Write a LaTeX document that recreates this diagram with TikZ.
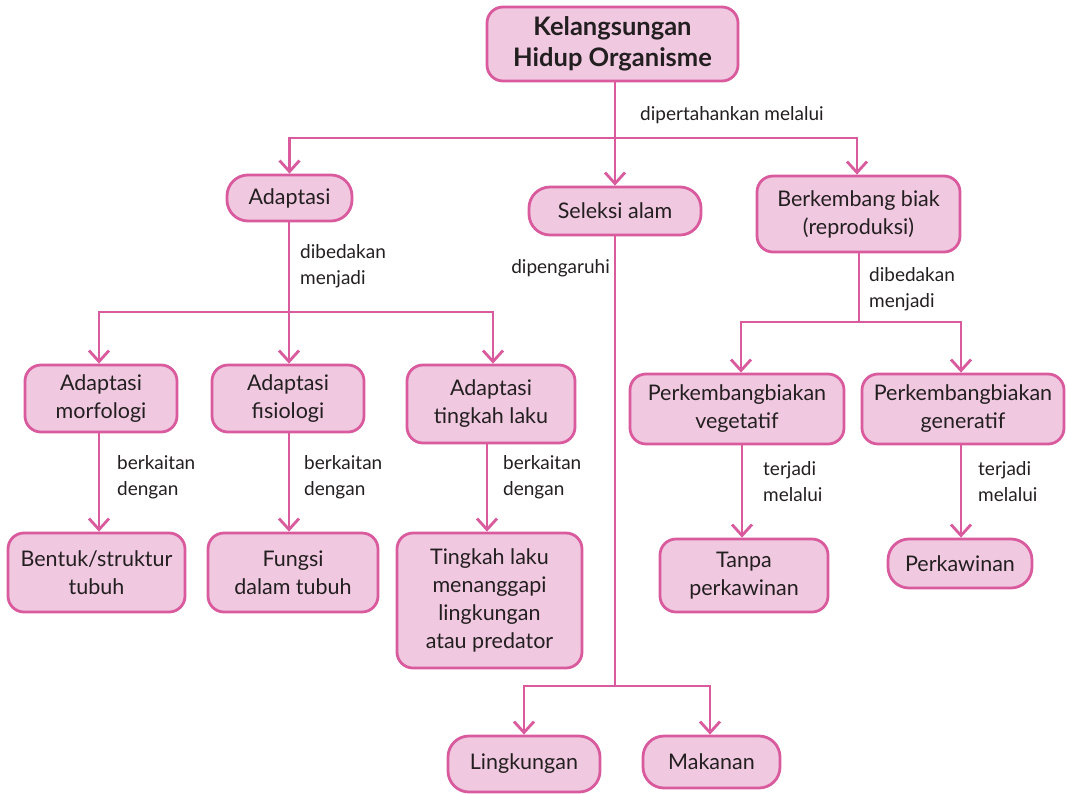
\documentclass[tikz,border=0pt]{standalone}
\usepackage{fontspec}
\setmainfont{Lato}
\usetikzlibrary{arrows.meta}
\definecolor{edge}{HTML}{D95B9E}
\definecolor{boxfill}{HTML}{F0C8E0}
\definecolor{ink}{HTML}{231F20}
\tikzset{
  box/.style={draw=edge, fill=boxfill, line width=2.8pt, rounded corners=16pt,
    align=center, text=ink, inner sep=0pt, font=\fontsize{21.5}{28}\selectfont},
  pill/.style={box, rounded corners=21pt},
  lbl/.style={text=ink, align=left, inner sep=0pt, font=\fontsize{19}{26}\selectfont},
  link/.style={draw=edge, line width=2.8pt},
  arr/.style={link, -{Straight Barb[length=11pt,width=20pt,line width=2.8pt]}},
}
\begin{document}
\begin{tikzpicture}[x=1pt,y=-1pt]
\useasboundingbox (0,0) rectangle (1067,793);

% boxes: centre, width, height
\node[box, minimum width=251, minimum height=74, font=\fontsize{25.5}{31}\selectfont\bfseries] (root) at (612.5,44) {Kelangsungan\\Hidup Organisme};

\node[pill, minimum width=125, minimum height=46] (adapt) at (289.5,198) {Adaptasi};
\node[pill, minimum width=172, minimum height=48] (selek) at (615,211) {Seleksi alam};
\node[box, minimum width=203, minimum height=76] (biak) at (858.5,214) {Berkembang biak\\(reproduksi)};

\node[box, minimum width=152, minimum height=67] (morf) at (101,398.5) {Adaptasi\\morfologi};
\node[box, minimum width=152, minimum height=67] (fisio) at (288,398.5) {Adaptasi\\fisiologi};
\node[box, minimum width=168, minimum height=78] (tingkah) at (491,404) {Adaptasi\\tingkah laku};

\node[box, minimum width=177, minimum height=79] (bentuk) at (96.5,572.5) {Bentuk/struktur\\tubuh};
\node[box, minimum width=170, minimum height=79] (fungsi) at (293,572.5) {Fungsi\\dalam tubuh};
\node[box, minimum width=185, minimum height=135] (predator) at (489.5,600.5) {Tingkah laku\\menanggapi\\lingkungan\\atau predator};

\node[box, minimum width=214, minimum height=70] (veg) at (737,409) {Perkembangbiakan\\vegetatif};
\node[box, minimum width=202, minimum height=70] (gen) at (963,409) {Perkembangbiakan\\generatif};
\node[box, minimum width=168, minimum height=73] (tanpa) at (744,575.5) {Tanpa\\perkawinan};
\node[pill, minimum width=144, minimum height=49] (kawin) at (960,563.5) {Perkawinan};

\node[pill, minimum width=152, minimum height=56] (lingk) at (524,764) {Lingkungan};
\node[pill, minimum width=137, minimum height=52] (makan) at (711.5,762) {Makanan};

% junction points
\coordinate (j1) at (615,138);
\coordinate (j2) at (289,312);
\coordinate (j3) at (615,686);
\coordinate (j4) at (859,322);

% level 1
\draw[link] (root.south -| j1) -- (j1);
\draw[arr] (j1) -| (adapt.north);
\draw[arr] (j1) -| (biak.north -| 857,0);
\draw[arr] (j1) -- (selek.north);
\node[lbl, anchor=west] (l1) at (640,115) {dipertahankan melalui};

% adaptasi branch
\draw[link] (adapt.south -| j2) -- (j2);
\draw[arr] (j2) -| (morf.north -| 99,0);
\draw[arr] (j2) -- (fisio.north -| j2);
\draw[arr] (j2) -| (tingkah.north -| 493,0);
\node[lbl, anchor=west] (l2) at (300,266) {dibedakan\\menjadi};

\draw[arr] (morf.south -| 99,0) -- (bentuk.north -| 99,0);
\draw[arr] (fisio.south -| 289,0) -- (fungsi.north -| 289,0);
\draw[arr] (tingkah.south -| 487,0) -- (predator.north -| 487,0);
\node[lbl, anchor=west] (l3) at (117,477) {berkaitan\\dengan};
\node[lbl, anchor=west] (l4) at (304,477) {berkaitan\\dengan};
\node[lbl, anchor=west] (l5) at (503,477) {berkaitan\\dengan};

% seleksi alam branch
\draw[link] (selek.south) -- (j3);
\draw[arr] (j3) -| (lingk.north -| 524,0);
\draw[arr] (j3) -| (makan.north -| 710,0);
\node[lbl, anchor=east] (l6) at (610,268) {dipengaruhi};

% reproduksi branch
\draw[link] (biak.south -| j4) -- (j4);
\draw[arr] (j4) -| (veg.north -| 741,0);
\draw[arr] (j4) -| (gen.north -| 961,0);
\node[lbl, anchor=west] (l7) at (869,289) {dibedakan\\menjadi};

\draw[arr] (veg.south -| 742,0) -- (tanpa.north -| 742,0);
\draw[arr] (gen.south -| 961,0) -- (kawin.north -| 961,0);
\node[lbl, anchor=west] (l8) at (763,482) {terjadi\\melalui};
\node[lbl, anchor=west] (l9) at (978,482) {terjadi\\melalui};
\end{tikzpicture}
\end{document}
